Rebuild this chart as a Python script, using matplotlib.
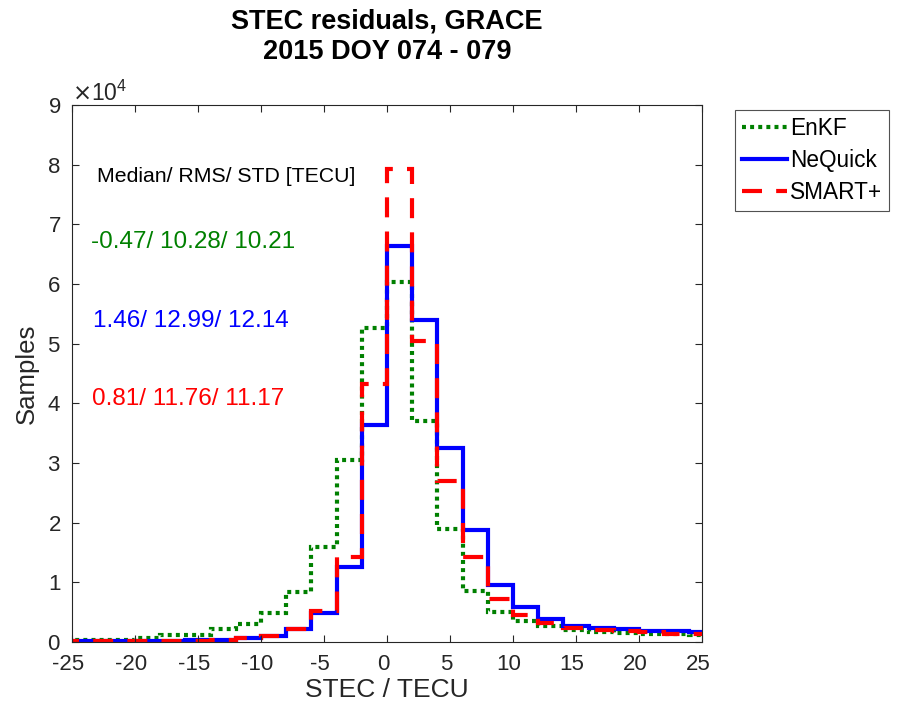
import numpy as np
import matplotlib
matplotlib.use("Agg")
import matplotlib.pyplot as plt
import matplotlib.transforms as mtransforms
from matplotlib.ticker import ScalarFormatter

plt.rcParams['font.family'] = ['Liberation Sans', 'DejaVu Sans']
plt.rcParams['axes.unicode_minus'] = False

bin_edges = np.arange(-26, 27, 2)
enkf = [300, 300, 400, 700, 1200, 1200, 2200, 3000, 4900, 8400, 16000, 30500,
        52600, 60300, 37000, 18900, 8500, 5000, 3500, 2700, 2000, 1700, 1500, 1400, 1300, 1200]
nequick = [100, 100, 100, 200, 200, 300, 400, 700, 1000, 2200, 4900, 12600,
           36300, 66300, 54000, 32500, 18800, 9500, 5900, 3900, 2700, 2400, 2100, 1900, 1800, 1700]
smart = [100, 100, 100, 100, 200, 200, 300, 600, 1000, 2100, 5200, 14200,
         43300, 79200, 50400, 27000, 14200, 7200, 4500, 3200, 2300, 2000, 1900, 1700, 1400, 1300]

stats_header = "Median/ RMS/ STD [TECU]"
stats = ["-0.47/ 10.28/ 10.21", "1.46/ 12.99/ 12.14", "0.81/ 11.76/ 11.17"]
labels = ["EnKF", "NeQuick", "SMART+"]
colors = ["#008000", "#0000FF", "#FF0000"]
dark = '#262626'

fig = plt.figure(figsize=(8.98, 7.13), dpi=100)
ax = fig.add_axes([72/898, 1-642/713, (702-72)/898, (642-105)/713])

lw = 3.0
ax.stairs(enkf, bin_edges, baseline=None, color=colors[0], lw=lw, linestyle=(0, (0.95, 1.0)), label=labels[0])
ax.stairs(nequick, bin_edges, baseline=None, color=colors[1], lw=lw, linestyle='-', label=labels[1])
ax.stairs(smart, bin_edges, baseline=None, color=colors[2], lw=lw, linestyle=(0, (4.8, 3.4)), label=labels[2])

ax.set_xlim(-25, 25)
ax.set_ylim(0, 90000)
ax.set_xticks(np.arange(-25, 26, 5))
ax.set_yticks(np.arange(0, 90001, 10000))

fmt = ScalarFormatter(useMathText=True)
fmt.set_powerlimits((0, 0))
ax.yaxis.set_major_formatter(fmt)
ax.yaxis.get_offset_text().set_fontsize(16.5)
ax.yaxis.get_offset_text().set_color(dark)

ax.tick_params(direction='in', length=5, width=0.8, top=True, right=True,
               labelsize=16, colors=dark)
ax.tick_params(axis='x', pad=9)
ax.tick_params(axis='y', pad=8)
shift = mtransforms.ScaledTranslation(-4/100, 0, fig.dpi_scale_trans)
for lab in ax.get_xticklabels():
    lab.set_transform(lab.get_transform() + shift)
for s in ax.spines.values():
    s.set_color(dark)
    s.set_linewidth(0.8)

ax.set_xlabel("STEC / TECU", fontsize=19, color=dark, labelpad=2)
ax.set_ylabel("Samples", fontsize=18.5, color=dark, labelpad=6)
ax.set_title("STEC residuals, GRACE\n2015 DOY 074 - 079", fontsize=19.5, fontweight='bold',
             pad=33, linespacing=1.25)

ax.text(-23.0, 78000, stats_header, fontsize=15.3, color='black', va='center')
ax.text(-23.5, 67000, stats[0], fontsize=17.5, color=colors[0], va='center')
ax.text(-23.3, 53800, stats[1], fontsize=17.5, color=colors[1], va='center')
ax.text(-23.4, 40800, stats[2], fontsize=17.5, color=colors[2], va='center')

leg = ax.legend(loc='upper left', bbox_to_anchor=(735/898, 1-110/713),
                bbox_transform=fig.transFigure, fontsize=16.3,
                frameon=True, fancybox=False, edgecolor=dark, handlelength=2.0,
                borderpad=0.3, labelspacing=0.4, handletextpad=0.15, borderaxespad=0)
leg.get_frame().set_linewidth(0.8)

fig.savefig("out.png", dpi=100)
